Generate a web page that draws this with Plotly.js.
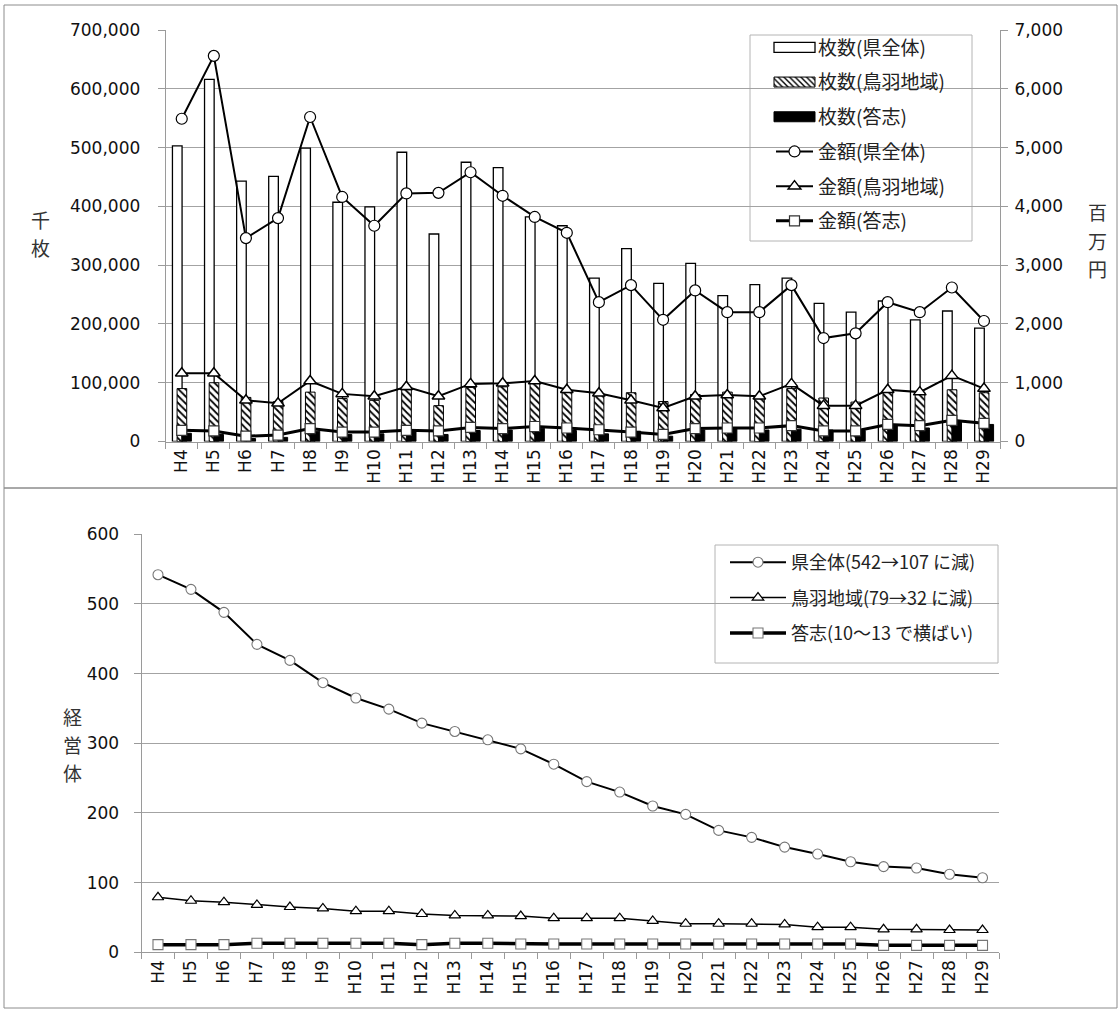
<!DOCTYPE html>
<html>
<head>
<meta charset="utf-8">
<script src="https://cdn.plot.ly/plotly-3.0.1.min.js"></script>
<style>
  html, body { margin: 0; padding: 0; background: #fff; }
  #chart { width: 1119px; height: 1009px; }
</style>
</head>
<body>
<div id="chart"></div>
<script>
// 年度
const years = ['H4','H5','H6','H7','H8','H9','H10','H11','H12','H13','H14','H15','H16',
               'H17','H18','H19','H20','H21','H22','H23','H24','H25','H26','H27','H28','H29'];

// 枚数（千枚）
const sheetsPref  = [503000,616000,443000,451000,499000,407000,399000,492000,353000,475000,466000,382000,367000,
                     278000,328000,269000,303000,248000,267000,278000,235000,220000,239000,207000,222000,193000];
const sheetsToba  = [90000,100000,75000,68000,84000,73000,70000,88000,61000,92000,93000,99000,84000,
                     81000,83000,68000,80000,84000,77000,90000,74000,67000,88000,84000,88000,83000];
const sheetsToshi = [14000,12000,5000,7000,17500,12000,13000,18700,12000,18700,19500,22600,18700,
                     13000,17500,9000,19500,22600,19500,21000,19500,18700,27200,23000,33000,29000];

// 金額（百万円）
const valuePref  = [5490,6560,3460,3800,5520,4160,3670,4220,4230,4580,4180,3820,3550,
                    2370,2660,2070,2570,2200,2200,2660,1760,1840,2370,2200,2620,2050];
const valueToba  = [1160,1160,700,650,1030,810,770,930,770,980,990,1030,880,
                    820,700,570,770,790,770,980,610,610,880,840,1120,900];
const valueToshi = [190,180,90,110,220,160,160,190,180,240,220,255,230,
                    200,160,120,220,230,230,270,180,180,290,270,360,310];

// 経営体数
const farmsPref  = [542,521,488,442,419,387,365,349,329,317,305,292,270,
                    245,230,210,198,175,165,151,141,130,123,121,112,107];
const farmsToba  = [79,74,72,68,65,63,59,59,55,53,53,52,49,
                    49,49,45,41,41,41,40,36,36,33,33,32,32];
const farmsToshi = [11,11,11,13,13,13,13,13,11,13,13,12,12,
                    12,12,12,12,12,12,12,12,12,10,10,10,10];

// 系列名
const sheetNames = ['枚数(県全体)', '枚数(鳥羽地域)', '枚数(答志)'];
const valueNames = ['金額(県全体)', '金額(鳥羽地域)', '金額(答志)'];
const farmNames  = ['県全体(542→107 に減)', '鳥羽地域(79→32 に減)', '答志(10～13 で横ばい)'];

const W = 1119, H = 1009;
const px = x => x / W;
const py = y => 1 - y / H;

const CJK = '"Noto Sans CJK JP", "Noto Sans", sans-serif';
const NUM = '"DejaVu Sans", sans-serif';
const tickFont = { family: NUM, size: 17, color: '#111' };
const GRID = '#a3a3a3';
const AXIS = '#9a9a9a';

// upper panel plot area (pixels)
const upArea = { l: 165.7, r: 1000, t: 30, b: 441.5 };
// lower panel plot area (pixels)
const lowArea = { l: 141.5, r: 999, t: 534.3, b: 952.3 };

const data = [
  { type: 'bar', x: years, y: sheetsPref, name: sheetNames[0], legendgroup: 'a',
    xaxis: 'x', yaxis: 'y', width: 0.3, offset: -0.29,
    marker: { color: '#fff', line: { color: '#000', width: 1.3 } } },
  { type: 'bar', x: years, y: sheetsToba, name: sheetNames[1], legendgroup: 'b',
    xaxis: 'x', yaxis: 'y', width: 0.3, offset: -0.145,
    marker: { color: '#fff', line: { color: '#000', width: 1 },
              pattern: { shape: '\\', fgcolor: '#000', bgcolor: '#fff', size: 5, solidity: 0.35 } } },
  { type: 'bar', x: years, y: sheetsToshi, name: sheetNames[2], legendgroup: 'c',
    xaxis: 'x', yaxis: 'y', width: 0.3, offset: 0.0,
    marker: { color: '#000', line: { color: '#000', width: 1 } } },

  { type: 'scatter', mode: 'lines+markers', x: years, y: valuePref, name: valueNames[0], legendgroup: 'd',
    xaxis: 'x', yaxis: 'y2', line: { color: '#000', width: 2 },
    marker: { symbol: 'circle', size: 11, color: '#fff', line: { color: '#000', width: 1.2 } } },
  { type: 'scatter', mode: 'lines+markers', x: years, y: valueToba, name: valueNames[1], legendgroup: 'e',
    xaxis: 'x', yaxis: 'y2', line: { color: '#000', width: 2 },
    marker: { symbol: 'triangle-up', size: 11, color: '#fff', line: { color: '#000', width: 1.5 } } },
  { type: 'scatter', mode: 'lines+markers', x: years, y: valueToshi, name: valueNames[2], legendgroup: 'f',
    xaxis: 'x', yaxis: 'y2', line: { color: '#000', width: 3 },
    marker: { symbol: 'square', size: 10, color: '#fff', line: { color: '#333', width: 1.2 } } },

  { type: 'scatter', mode: 'lines+markers', x: years, y: farmsPref, name: farmNames[0], legendgroup: 'g',
    legend: 'legend2', xaxis: 'x2', yaxis: 'y3', line: { color: '#000', width: 2 },
    marker: { symbol: 'circle', size: 10, color: '#fff', line: { color: '#777', width: 1.1 } } },
  { type: 'scatter', mode: 'lines+markers', x: years, y: farmsToba, name: farmNames[1], legendgroup: 'h',
    legend: 'legend2', xaxis: 'x2', yaxis: 'y3', line: { color: '#000', width: 1.5 },
    marker: { symbol: 'triangle-up', size: 10, color: '#fff', line: { color: '#000', width: 1.2 } } },
  { type: 'scatter', mode: 'lines+markers', x: years, y: farmsToshi, name: farmNames[2], legendgroup: 'i',
    legend: 'legend2', xaxis: 'x2', yaxis: 'y3', line: { color: '#000', width: 3.5 },
    marker: { symbol: 'square', size: 10, color: '#fff', line: { color: '#777', width: 1.1 } } }
];

const catAxis = (domain, anchor) => ({
  domain, anchor, type: 'category', tickson: 'boundaries',
  range: [-0.5, years.length - 0.5], autorange: false,
  ticks: 'outside', ticklen: 6, tickcolor: AXIS, tickwidth: 1,
  showline: true, linecolor: AXIS, linewidth: 1,
  tickangle: -90, tickfont: tickFont, showgrid: false, zeroline: false,
  fixedrange: true
});

// vertical axis captions, one character per line
const captionFont = { family: CJK, size: 19, color: '#333' };
const caption = (ch, x, y) => ({
  text: ch, x: px(x), y: py(y), xref: 'paper', yref: 'paper',
  showarrow: false, xanchor: 'center', yanchor: 'middle', font: captionFont
});

const layout = {
  width: W, height: H,
  margin: { l: 0, r: 0, t: 0, b: 0, pad: 0 },
  paper_bgcolor: '#fff', plot_bgcolor: 'rgba(0,0,0,0)',
  barmode: 'overlay', hovermode: false, showlegend: true,

  xaxis: catAxis([px(upArea.l), px(upArea.r)], 'y'),
  yaxis: {
    domain: [py(upArea.b), py(upArea.t)], anchor: 'x', range: [0, 700000], tick0: 0, dtick: 100000,
    tickformat: ',d', showgrid: true, gridcolor: GRID, gridwidth: 1,
    showline: true, linecolor: AXIS, ticks: 'outside', ticklen: 7, tickcolor: AXIS,
    zeroline: false, tickfont: tickFont, ticklabelstandoff: 14, fixedrange: true
  },
  yaxis2: {
    overlaying: 'y', side: 'right', anchor: 'x', range: [0, 7000], tick0: 0, dtick: 1000,
    tickformat: ',d', showgrid: false, showline: true, linecolor: AXIS,
    ticks: 'outside', ticklen: 7, tickcolor: AXIS, zeroline: false,
    tickfont: tickFont, ticklabelstandoff: 3, fixedrange: true
  },
  xaxis2: catAxis([px(lowArea.l), px(lowArea.r)], 'y3'),
  yaxis3: {
    domain: [py(lowArea.b), py(lowArea.t)], anchor: 'x2', range: [0, 600], tick0: 0, dtick: 100,
    showgrid: true, gridcolor: GRID, gridwidth: 1,
    showline: true, linecolor: AXIS, ticks: 'outside', ticklen: 7, tickcolor: AXIS,
    zeroline: false, tickfont: tickFont, ticklabelstandoff: 11, fixedrange: true
  },

  legend: {
    x: px(771), y: py(28.5), xanchor: 'left', yanchor: 'top',
    bgcolor: 'rgba(0,0,0,0)', borderwidth: 0,
    font: { family: CJK, size: 19, color: '#222' },
    itemwidth: 37, tracegroupgap: 7, traceorder: 'grouped'
  },
  legend2: {
    x: px(725), y: py(544), xanchor: 'left', yanchor: 'top',
    bgcolor: 'rgba(0,0,0,0)', borderwidth: 0,
    font: { family: CJK, size: 18, color: '#222' },
    itemwidth: 56, tracegroupgap: 9, traceorder: 'grouped'
  },

  annotations: [
    caption('千', 40, 219), caption('枚', 40, 247),
    caption('百', 1097, 211), caption('万', 1097, 240), caption('円', 1097, 269),
    caption('経', 72, 716), caption('営', 72, 744), caption('体', 72, 772)
  ],

  shapes: [
    // panel frames
    { type: 'rect', xref: 'paper', yref: 'paper', x0: px(4), x1: px(1117), y0: py(488), y1: py(5),
      line: { color: '#8c8c8c', width: 1 }, fillcolor: 'rgba(0,0,0,0)' },
    { type: 'rect', xref: 'paper', yref: 'paper', x0: px(4), x1: px(1117), y0: py(1008), y1: py(488),
      line: { color: '#8c8c8c', width: 1 }, fillcolor: 'rgba(0,0,0,0)' },
    // legend boxes
    { type: 'rect', xref: 'x domain', yref: 'y domain', layer: 'below',
      x0: (750 - upArea.l) / (upArea.r - upArea.l), x1: (972 - upArea.l) / (upArea.r - upArea.l),
      y0: (upArea.b - 241) / (upArea.b - upArea.t), y1: (upArea.b - 35) / (upArea.b - upArea.t),
      line: { color: '#b4b4b4', width: 1 }, fillcolor: '#fff' },
    { type: 'rect', xref: 'x2 domain', yref: 'y3 domain', layer: 'below',
      x0: (715 - lowArea.l) / (lowArea.r - lowArea.l), x1: (998 - lowArea.l) / (lowArea.r - lowArea.l),
      y0: (lowArea.b - 663) / (lowArea.b - lowArea.t), y1: (lowArea.b - 545) / (lowArea.b - lowArea.t),
      line: { color: '#b4b4b4', width: 1 }, fillcolor: '#fff' }
  ]
};

Plotly.newPlot('chart', data, layout, { staticPlot: true, displayModeBar: false }).then(gd => {
  // widen the bar swatches in the legend to the length of the line symbols
  const items = gd.querySelectorAll('g.traces');
  let lineRect = null;
  items.forEach(it => {
    const lp = it.querySelector('.legendlines path.js-line');
    if (lp && !lineRect) lineRect = lp.getBoundingClientRect();
  });
  if (!lineRect) return;
  items.forEach(it => {
    it.querySelectorAll('.legendpoints path').forEach(p => {
      const d = p.getAttribute('d') || '';
      if (d.indexOf('M6,6H-6V-6H6Z') === 0) {
        const r = p.getBoundingClientRect();
        const cx = (r.left + r.right) / 2;
        const mid = (lineRect.left + lineRect.right) / 2 - cx;
        const half = (lineRect.right - lineRect.left) / 2 + 2;
        p.setAttribute('d', `M${mid + half},5H${mid - half}V-5H${mid + half}Z`);
      }
    });
  });
});
</script>
</body>
</html>
